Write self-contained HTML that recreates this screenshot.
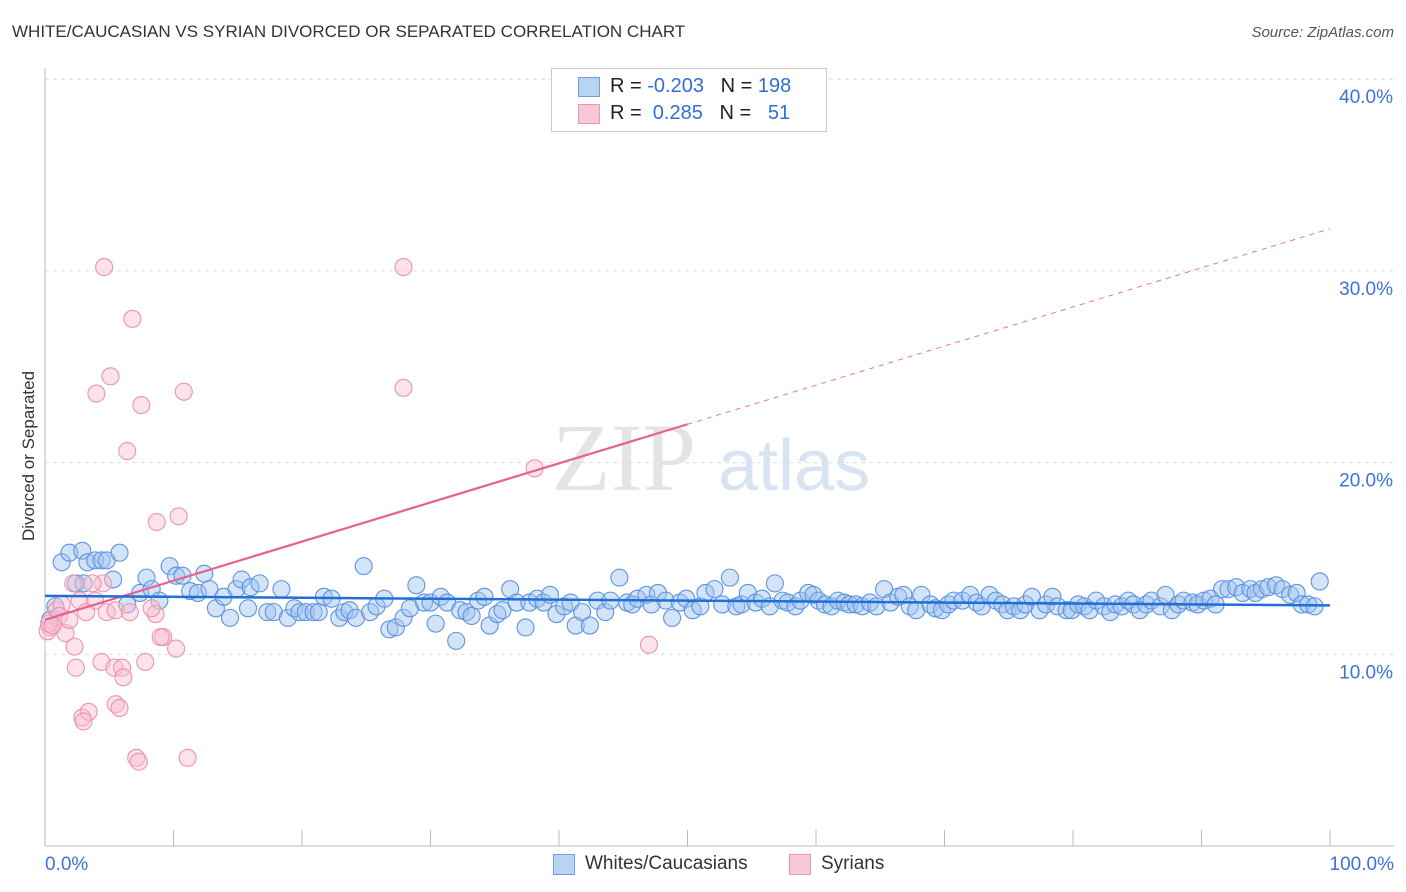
<!DOCTYPE html>
<html><head><meta charset="utf-8"><style>
body{margin:0;background:#fff;font-family:"Liberation Sans",sans-serif;}
#wrap{position:relative;width:1406px;height:892px;overflow:hidden;}
.t{position:absolute;white-space:nowrap;}
</style></head><body>
<div id="wrap">
<div class="t" style="left:12px;top:22px;font-size:17px;color:#333;">WHITE/CAUCASIAN VS SYRIAN DIVORCED OR SEPARATED CORRELATION CHART</div>
<div class="t" style="right:12px;top:24px;font-size:15px;color:#555;font-style:italic;">Source: ZipAtlas.com</div>
<svg id="plot" width="1406" height="892" style="position:absolute;left:0;top:0">
<text x="552" y="490" font-size="96" fill="#e4e4e4" font-family="Liberation Serif">ZIP</text>
<text x="718" y="490" font-size="72" fill="#d8e4f3" font-family="Liberation Sans">atlas</text>
<g id="grid"></g><g id="axes"></g><g id="pts"></g><g id="trends"></g>
<text x="34" y="456" font-size="17" fill="#333" text-anchor="middle" transform="rotate(-90 34 456)">Divorced or Separated</text>
</svg>
<div style="position:absolute;left:551px;top:68px;width:274px;height:62px;border:1px solid #ccc;background:#fff;font-size:20px;">
<div style="position:absolute;left:26px;top:8px;width:20px;height:18px;background:#b9d3f5;border:1px solid #6f9de0;"></div>
<div class="t" style="left:58px;top:6px;color:#222;">R = <span style="color:#2f6fd6">-0.203</span>&nbsp;&nbsp;&nbsp;N = <span style="color:#2f6fd6">198</span></div>
<div style="position:absolute;left:26px;top:35px;width:20px;height:18px;background:#f9c8d6;border:1px solid #ee94ad;"></div>
<div class="t" style="left:58px;top:33px;color:#222;">R = &nbsp;<span style="color:#2f6fd6">0.285</span>&nbsp;&nbsp;&nbsp;N = &nbsp;&nbsp;<span style="color:#2f6fd6">51</span></div>
</div>
<div style="position:absolute;left:0;top:852px;width:1406px;height:26px;font-size:19px;color:#333;">
<div style="position:absolute;left:553px;top:2px;width:20px;height:19px;background:#b9d3f5;border:1px solid #6f9de0;"></div>
<div class="t" style="left:585px;top:1px;">Whites/Caucasians</div>
<div style="position:absolute;left:789px;top:2px;width:20px;height:19px;background:#f9c8d6;border:1px solid #ee94ad;"></div>
<div class="t" style="left:821px;top:1px;">Syrians</div>
</div>
</div>
<script>
const yTicks=[10,20,30,40];
const yTickLabels=["10.0%","20.0%","30.0%","40.0%"];
const xTickLabels=["0.0%","100.0%"];
const whiteX=[1.3,1.9,2.9,3.3,3.9,4.4,4.8,5.8,2.4,3.0,5.3,6.4,0.8,0.4,7.4,7.9,8.3,8.9,9.7,10.2,10.7,11.3,11.9,12.4,12.8,13.3,13.9,14.4,14.9,15.3,15.8,16.0,16.7,17.3,17.8,18.4,18.9,19.4,19.8,20.3,20.9,21.3,21.7,22.3,22.9,23.3,23.7,24.2,24.8,25.3,25.8,26.4,26.8,27.3,27.9,28.4,28.9,29.5,30.0,30.4,30.8,31.3,32.0,32.3,32.8,33.2,33.7,34.2,34.6,35.2,35.6,36.2,36.7,37.4,37.7,38.3,38.8,39.3,39.8,40.4,40.9,41.3,41.8,42.4,43.0,43.6,44.0,44.7,45.3,45.7,46.1,46.8,47.2,47.7,48.3,48.8,49.4,49.9,50.4,51.0,51.4,52.1,52.7,53.3,53.8,54.2,54.7,55.3,55.8,56.4,56.8,57.4,57.8,58.4,58.8,59.4,59.8,60.2,60.7,61.2,61.7,62.2,62.6,63.1,63.6,64.2,64.7,65.3,65.8,66.4,66.8,67.3,67.8,68.2,68.9,69.3,69.8,70.3,70.7,71.4,72.0,72.5,72.9,73.5,74.0,74.5,74.9,75.4,75.9,76.3,76.8,77.4,77.9,78.4,78.8,79.5,79.9,80.4,80.9,81.3,81.8,82.4,82.9,83.3,83.8,84.3,84.7,85.2,85.7,86.1,86.8,87.2,87.7,88.2,88.6,89.3,89.7,90.2,90.7,91.1,91.6,92.1,92.7,93.2,93.8,94.2,94.7,95.2,95.8,96.3,96.9,97.4,97.8,98.3,98.8,99.2];
const whiteY=[14.8,15.3,15.4,14.8,14.9,14.9,14.9,15.3,13.7,13.7,13.9,12.6,12.5,11.8,13.2,14.0,13.4,12.8,14.6,14.1,14.1,13.3,13.2,14.2,13.4,12.4,13.0,11.9,13.4,13.9,12.4,13.5,13.7,12.2,12.2,13.4,11.9,12.4,12.2,12.2,12.2,12.2,13.0,12.9,11.9,12.2,12.3,11.9,14.6,12.2,12.5,12.9,11.3,11.4,11.9,12.4,13.6,12.7,12.7,11.6,13.0,12.7,10.7,12.3,12.2,12.0,12.8,13.0,11.5,12.1,12.3,13.4,12.7,11.4,12.7,12.9,12.7,13.1,12.1,12.5,12.7,11.5,12.2,11.5,12.8,12.2,12.8,14.0,12.7,12.6,12.9,13.1,12.6,13.2,12.8,11.9,12.7,12.9,12.3,12.5,13.2,13.4,12.6,14.0,12.5,12.6,13.2,12.7,12.9,12.5,13.7,12.8,12.7,12.5,12.8,13.2,13.1,12.8,12.6,12.5,12.8,12.7,12.6,12.6,12.5,12.7,12.5,13.4,12.7,13.0,13.1,12.5,12.3,13.1,12.6,12.4,12.3,12.6,12.8,12.8,13.1,12.7,12.5,13.1,12.8,12.6,12.3,12.5,12.3,12.6,13.0,12.3,12.6,13.0,12.5,12.3,12.3,12.6,12.5,12.3,12.8,12.5,12.2,12.6,12.5,12.8,12.6,12.3,12.6,12.8,12.5,13.1,12.3,12.6,12.8,12.7,12.6,12.8,12.9,12.6,13.4,13.4,13.5,13.2,13.4,13.2,13.4,13.5,13.6,13.4,13.1,13.2,12.6,12.6,12.5,13.8];
const syrX=[4.6,27.9,6.8,5.1,4.0,10.8,7.5,27.9,6.4,38.1,8.7,10.4,2.2,4.5,3.7,0.9,1.3,2.7,3.9,4.8,5.5,3.2,8.6,0.4,1.6,0.2,9.2,10.2,47.0,2.3,2.4,4.4,5.4,6.0,7.8,6.1,2.9,3.4,5.5,5.8,3.0,7.1,7.3,11.1,8.3,1.1,6.6,0.3,1.9,9.0,0.6];
const syrY=[30.2,30.2,27.5,24.5,23.6,23.7,23.0,23.9,20.6,19.7,16.9,17.2,13.7,13.7,13.7,12.3,12.6,12.8,12.8,12.2,12.3,12.2,12.1,11.4,11.1,11.2,10.9,10.3,10.5,10.4,9.3,9.6,9.3,9.3,9.6,8.8,6.7,7.0,7.4,7.2,6.5,4.6,4.4,4.6,12.4,12.0,12.2,11.6,11.8,10.9,11.5];
const whiteTrend=[13.05,12.55];
const syrTrend=[11.8,32.2];
const syrSolidEnd=50;
const X0=45,X1=1330,Yb=846,pxPer=19.17;
const sx=v=>X0+(X1-X0)*v/100, sy=v=>Yb-v*pxPer;
const NS="http://www.w3.org/2000/svg";
function mk(tag,attrs,parent){const e=document.createElementNS(NS,tag);for(const k in attrs)e.setAttribute(k,attrs[k]);parent.appendChild(e);return e;}
const grid=document.getElementById('grid'),axes=document.getElementById('axes'),pts=document.getElementById('pts'),tr=document.getElementById('trends');
yTicks.forEach((t,i)=>{
 const l=mk('line',{x1:X0,x2:1394,y1:sy(t),y2:sy(t),stroke:'#ddd','stroke-dasharray':'4,4'},grid);
 
 
 const tx=mk('text',{x:1393,y:sy(t)+24,'text-anchor':'end','font-size':19,fill:'#3b72d6'},axes);
 tx.textContent=yTickLabels[i];
 
 
});
const topL=mk('line',{x1:X0,x2:1394,y1:79,y2:79,stroke:'#ddd','stroke-dasharray':'4,4'},grid);


const ya=mk('line',{x1:X0,x2:X0,y1:68,y2:846,stroke:'#bbb'},axes);


const xa=mk('line',{x1:X0,x2:1394,y1:846,y2:846,stroke:'#bbb'},axes);


for(let i=0;i<=10;i++){
 const tk=mk('line',{x1:sx(i*10),x2:sx(i*10),y1:830,y2:846,stroke:'#bbb'},axes);
 
 
}
const xl0=mk('text',{x:45,y:870,'font-size':19,fill:'#3b72d6'},axes);xl0.textContent=xTickLabels[0];


const xl1=mk('text',{x:1394,y:870,'text-anchor':'end','font-size':19,fill:'#3b72d6'},axes);xl1.textContent=xTickLabels[1];


whiteX.forEach((x,i)=>{
 const c=mk('circle',{cx:sx(x),cy:sy(whiteY[i]),r:8.5,fill:'rgba(160,196,240,0.45)',stroke:'#5b93e0','stroke-width':1.1},pts);
 
 
});
syrX.forEach((x,i)=>{
 const c=mk('circle',{cx:sx(x),cy:sy(syrY[i]),r:8.5,fill:'rgba(248,190,208,0.45)',stroke:'#ec94ae','stroke-width':1.1},pts);
 
 
});
const sAt=x=>syrTrend[0]+(syrTrend[1]-syrTrend[0])*x/100;
const pd=mk('line',{x1:sx(syrSolidEnd),y1:sy(sAt(syrSolidEnd)),x2:sx(100),y2:sy(sAt(100)),stroke:'#e8739a','stroke-width':1,'stroke-dasharray':'5,5'},tr);


const ps=mk('line',{x1:sx(0),y1:sy(sAt(0)),x2:sx(syrSolidEnd),y2:sy(sAt(syrSolidEnd)),stroke:'#e8608c','stroke-width':2.2},tr);


const wl=mk('line',{x1:sx(0),y1:sy(whiteTrend[0]),x2:sx(100),y2:sy(whiteTrend[1]),stroke:'#1f6fd6','stroke-width':2.5},tr);


</script>
</body></html>
